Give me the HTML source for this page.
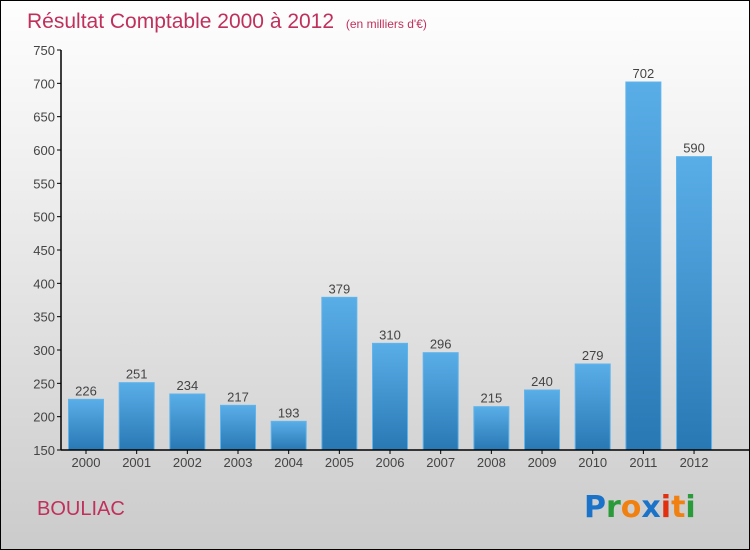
<!DOCTYPE html>
<html><head><meta charset="utf-8"><style>
body{margin:0}
#wrap{position:relative;width:748px;height:548px;border:1px solid #000;background:linear-gradient(#fefefe,#f0f0f0 30%,#d8d8d8 75%,#cbcbcb);font-family:"Liberation Sans",sans-serif;overflow:hidden}
</style></head><body>
<div id="wrap">
<svg id="svg" width="748" height="548">
<defs><linearGradient id="bg" x1="0" y1="0" x2="0" y2="1"><stop offset="0" stop-color="#5aaee8"/><stop offset="1" stop-color="#2878b4"/></linearGradient></defs>
<text x="26" y="27" font-size="21" fill="#c0305c">Résultat Comptable 2000 à 2012 <tspan font-size="12" dx="6">(en milliers d'€)</tspan></text>
<text x="36" y="514" font-size="20" fill="#c0305c">BOULIAC</text>
<g font-size="30" font-family="'DejaVu Sans',sans-serif" font-weight="bold">
<text x="583" y="516"><tspan fill="#1a73c8">P</tspan><tspan fill="#2a9a3a">r</tspan><tspan fill="#f08010">o</tspan><tspan fill="#1a73c8">x</tspan><tspan fill="#e03010">i</tspan><tspan fill="#f08010">t</tspan><tspan fill="#2a9a3a">i</tspan></text></g>
<g id="g"></g>
</svg></div>
<script>
const years=["2000","2001","2002","2003","2004","2005","2006","2007","2008","2009","2010","2011","2012"];
const values=[226,251,234,217,193,379,310,296,215,240,279,702,590];
const ticks=[150,200,250,300,350,400,450,500,550,600,650,700,750];
const NS="http://www.w3.org/2000/svg";
const g=document.getElementById('g');
const y=v=>449-(v-150)*400/600;
const x=i=>85+i*50.67;
function mk(t,a){const e=document.createElementNS(NS,t);for(const k in a)e.setAttribute(k,a[k]);g.appendChild(e);return e;}
ticks.forEach(t=>{
const l=mk('line',{x1:56,x2:60,y1:y(t),y2:y(t),stroke:'#000'});


const tx=mk('text',{x:54,y:y(t)+5,'text-anchor':'end','font-size':13,fill:'#444'});tx.textContent=t;


});
years.forEach((yr,i)=>{
const r=mk('rect',{x:x(i)-17.5,y:y(values[i]),width:35,height:449-y(values[i]),fill:'url(#bg)',stroke:'#60b4ec','stroke-width':1});


const v=mk('text',{x:x(i),y:y(values[i])-4,'text-anchor':'middle','font-size':13,fill:'#444'});v.textContent=values[i];


const tk=mk('line',{x1:x(i),x2:x(i),y1:449,y2:453,stroke:'#000'});


const t=mk('text',{x:x(i),y:466,'text-anchor':'middle','font-size':13,fill:'#444'});t.textContent=yr;


});
const ax=mk('line',{x1:60,x2:60,y1:49,y2:449,stroke:'#000','stroke-width':1.5});


const bx=mk('line',{x1:60,x2:748,y1:449,y2:449,stroke:'#000','stroke-width':1.5});


</script>
</body></html>
